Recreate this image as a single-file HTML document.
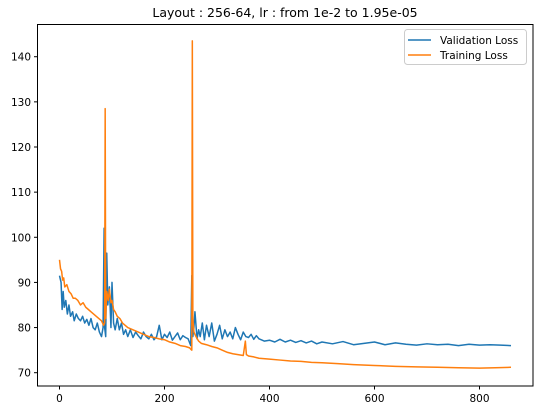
<!DOCTYPE html>
<html><head><meta charset="utf-8"><style>
body{margin:0;background:#fff;font-family:"Liberation Sans","DejaVu Sans",sans-serif}
svg text{font-family:"DejaVu Sans","Liberation Sans",sans-serif;fill:#000}
</style></head><body>
<svg id="c" width="540" height="412">
<text x="285" y="17" font-size="12.5" text-anchor="middle">Layout : 256-64, lr : from 1e-2 to 1.95e-05</text>
<g id="plot"></g>
<rect x="37.5" y="24.5" width="495.5" height="361.5" fill="none" stroke="#000" stroke-width="1"/>
<g>
<rect x="404.5" y="29.5" width="122" height="35" rx="3" fill="#fff" stroke="#ccc"/>
<line x1="408" y1="40" x2="431" y2="40" stroke="#1f77b4" stroke-width="1.5"/>
<text x="440" y="44" font-size="10.5">Validation Loss</text>
<line x1="408" y1="55" x2="431" y2="55" stroke="#ff7f0e" stroke-width="1.5"/>
<text x="440" y="59" font-size="10.5">Training Loss</text>
</g>
</svg>
<script>
const xTicks=[0,200,400,600,800];
const yTicks=[70,80,90,100,110,120,130,140];
const valEpochs=[0,3,5,7,9,12,15,18,21,25,28,32,36,40,44,48,52,56,60,64,68,72,76,80,83,85,86,88,90,92,95,98,100,103,106,110,114,118,122,126,130,135,140,145,150,155,160,165,170,175,180,185,190,195,200,205,210,215,220,225,230,235,240,245,250,252,254,256,258,262,265,268,272,276,280,285,290,295,300,305,310,315,320,325,330,335,340,345,350,355,360,365,370,375,380,390,400,410,420,430,440,450,460,470,480,490,500,520,540,560,580,600,620,640,660,680,700,720,740,760,780,800,820,840,860];
const valLoss=[91.5,90,84,88,84.5,86,83,85,82.5,83.5,81.5,83,82,81.5,82.5,81,81.8,80.5,82,80,79.5,81,79,78,80,102,80,78,96.5,85,89,80,90,81,79.5,82,79.5,81,78.5,79.5,78,79.5,77.8,79,78.2,77.5,79,78,77.5,78.5,77.3,78,80.5,77.3,78.5,77.8,79,77.2,78,78.8,77.3,78.2,77.8,77.5,76,91.5,78,80,83.5,77.5,79.5,78,81,77.3,80.5,78,81,77,78.5,80.5,77.5,79.5,78,79,77.5,80,78.5,77.3,79,78,77.8,78.5,77.4,78.2,77.5,77,77.2,76.8,77.4,76.8,77.2,76.7,77.1,76.6,77,76.4,76.8,76.4,76.9,76.2,76.5,76.8,76.2,76.6,76.3,76.1,76.4,76.2,76.3,76,76.3,76.1,76.2,76.1,76];
const trainEpochs=[0,2,4,6,8,10,14,18,22,26,30,35,40,45,50,55,60,65,70,75,80,84,86,87,88,90,93,95,98,100,103,106,110,115,120,125,130,140,150,160,170,180,190,200,210,220,230,240,248,250,252,253,254,256,260,265,270,280,290,300,310,320,330,340,350,354,356,360,370,380,400,420,440,460,480,500,530,560,600,640,680,720,760,800,830,860];
const trainLoss=[95,93,92.5,90.5,91,89,89.5,88,87.5,86.5,86.5,86,85,85.5,84.5,84,83.5,83,82.5,82,81.5,80.5,81,128.5,82,88,86,88.5,85.5,86,84,83.5,82.5,82,81,80.5,80,79.5,79,78.5,78,77.8,77.5,77.3,76.8,76.5,76,75.8,75.5,75.2,75,143.5,82,79,78,77,76.5,76.2,75.8,75.5,75,74.5,74.2,74,73.8,77,74,73.7,73.5,73.2,73,72.8,72.6,72.5,72.3,72.2,72,71.8,71.6,71.4,71.3,71.2,71.1,71,71.1,71.2];
const NS='http://www.w3.org/2000/svg';
const svg=document.getElementById('c'),g=document.getElementById('plot');
const X=v=>59.5+v*105/200, Y=v=>372.7-(v-70)*45.14/10;
function mk(t,a){const e=document.createElementNS(NS,t);for(const k in a)e.setAttribute(k,a[k]);return e;}
xTicks.forEach(t=>{
 const l=mk('line',{x1:X(t),x2:X(t),y1:386,y2:389.5,stroke:'#000'});
 
 
 svg.appendChild(l);
 const s=mk('text',{x:X(t),y:402,'font-size':'10.5','text-anchor':'middle'});s.textContent=t;
 
 
 svg.appendChild(s);
});
yTicks.forEach(t=>{
 const l=mk('line',{x1:34,x2:37.5,y1:Y(t),y2:Y(t),stroke:'#000'});
 
 
 svg.appendChild(l);
 const s=mk('text',{x:31,y:Y(t)+4,'font-size':'10.5','text-anchor':'end'});s.textContent=t;
 
 
 svg.appendChild(s);
});
function line(xs,ys,c,n){
 const p=mk('polyline',{points:xs.map((x,i)=>X(x)+','+Y(ys[i])).join(' '),fill:'none',stroke:c,'stroke-width':1.5,'stroke-linejoin':'round'});
 
 
 g.appendChild(p);
}
line(valEpochs,valLoss,'#1f77b4','validation-loss-line');
line(trainEpochs,trainLoss,'#ff7f0e','training-loss-line');
</script>
</body></html>
